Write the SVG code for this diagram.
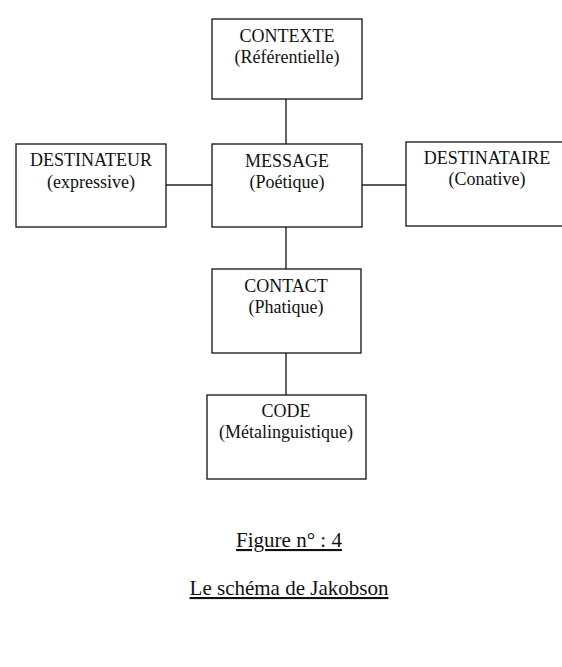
<svg xmlns="http://www.w3.org/2000/svg" width="562" height="667" viewBox="0 0 562 667">
<style>
.box{fill:#fff;stroke:#222;stroke-width:1.4}
.con{stroke:#222;stroke-width:1.4;fill:none}
text{font-family:"Liberation Serif","Times New Roman",serif;font-size:18px;fill:#111;text-anchor:middle}
.cap{font-size:21px;text-decoration:underline}
</style>
<rect width="562" height="667" fill="#fff"/>
<g id="connectors">
<line class="con" x1="286" y1="99" x2="286" y2="144"/>
<line class="con" x1="166" y1="185" x2="212" y2="185"/>
<line class="con" x1="362" y1="185" x2="406" y2="185"/>
<line class="con" x1="286" y1="227" x2="286" y2="269"/>
<line class="con" x1="286" y1="353" x2="286" y2="395"/>
</g>
<g id="contexte">
<rect class="box" x="212" y="19" width="150" height="80"/>
<text x="287" y="42">CONTEXTE</text>
<text x="287" y="63">(Référentielle)</text>
</g>
<g id="destinateur">
<rect class="box" x="16" y="144" width="150" height="83"/>
<text x="91" y="166">DESTINATEUR</text>
<text x="91" y="188">(expressive)</text>
</g>
<g id="message">
<rect class="box" x="212" y="144" width="150" height="83"/>
<text x="287" y="167">MESSAGE</text>
<text x="287" y="188">(Poétique)</text>
</g>
<g id="destinataire">
<rect class="box" x="406" y="142" width="160" height="84"/>
<text x="487" y="164">DESTINATAIRE</text>
<text x="487" y="185">(Conative)</text>
</g>
<g id="contact">
<rect class="box" x="212" y="269" width="149" height="84"/>
<text x="286" y="292">CONTACT</text>
<text x="286" y="313">(Phatique)</text>
</g>
<g id="code">
<rect class="box" x="207" y="395" width="159" height="84"/>
<text x="286" y="417">CODE</text>
<text x="286" y="438">(Métalinguistique)</text>
</g>
<g id="caption">
<text class="cap" x="289" y="547">Figure n° : 4</text>
<text class="cap" x="289" y="595">Le schéma de Jakobson</text>
</g>
</svg>
